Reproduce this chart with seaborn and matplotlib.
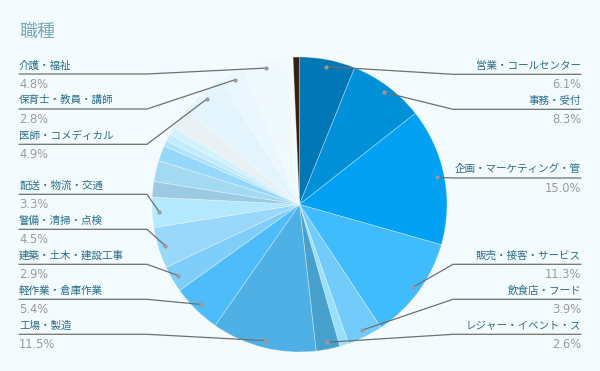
import numpy as np
import matplotlib
matplotlib.use("Agg")
import matplotlib.pyplot as plt
import seaborn as sns

# ---- data (clockwise from 12 o'clock) ----
categories = [
    "営業・コールセンター", "事務・受付", "企画・マーケティング・管", "販売・接客・サービス",
    "飲食店・フード", "", "レジャー・イベント・ス", "工場・製造", "軽作業・倉庫作業",
    "建築・土木・建設工事", "警備・清掃・点検", "配送・物流・交通", "", "", "", "", "", "", "",
    "医師・コメディカル", "保育士・教員・講師", "介護・福祉", "", "",
]
values = [6.1, 8.3, 15.0, 11.3, 3.9, 1.0, 2.6, 11.5, 5.4, 2.9, 4.5, 3.3,
          1.7, 2.3, 1.7, 0.6, 0.8, 0.9, 2.3, 4.9, 2.8, 4.8, 0.7, 0.7]
slice_colors = [
    "#0277b5", "#0290d8", "#03a1f3", "#40bbfc", "#73cbfc", "#99e0fd", "#48a0cd",
    "#4fb0e6", "#4dbcf9", "#7fcdf9", "#99d7fb", "#b3e8fd", "#9ccae2", "#a4d9f2",
    "#97d8fa", "#b0e3fb", "#c4ebfc", "#d3f1fd", "#e8f0f4", "#e4f4fd", "#ebf7fe",
    "#f0f9fe", "#f4fbff", "#3a1e10",
]

# ---- layout of labels (pixel positions of the underline) ----
right_labels = {"営業・コールセンター": 74.3, "事務・受付": 109.3, "企画・マーケティング・管": 178,
                "販売・接客・サービス": 264.3, "飲食店・フード": 299.3, "レジャー・イベント・ス": 334.3}
left_labels = {"介護・福祉": 74, "保育士・教員・講師": 109, "医師・コメディカル": 144.3,
               "配送・物流・交通": 194.3, "警備・清掃・点検": 229.3, "建築・土木・建設工事": 264.3,
               "軽作業・倉庫作業": 299.3, "工場・製造": 334.3}

sns.set_theme(style="white")
plt.rcParams["font.family"] = ["Noto Sans CJK JP", "DejaVu Sans"]

W, H = 600, 371
BG = "#f4fbff"
fig = plt.figure(figsize=(6, 3.71), dpi=100, facecolor=BG)
ax = fig.add_axes([0, 0, 1, 1])
ax.set_facecolor(BG)

cx, cy, R = 299.5, H - 204.5, 147.5
wedges, _ = ax.pie(values, colors=slice_colors, startangle=90, counterclock=False,
                   center=(cx, cy), radius=R, frame=True,
                   wedgeprops=dict(linewidth=0.6, edgecolor=(1, 1, 1, 0.35)))
ax.set_xlim(0, W)
ax.set_ylim(0, H)
ax.set_aspect("equal")
ax.axis("off")

name_col = "#2b6d88"
pct_col = "#9a9a9a"
line_col = "#6f6f6f"

def Y(y):
    return H - y

for w, name, v in zip(wedges, categories, values):
    if not name:
        continue
    mid = np.deg2rad((w.theta1 + w.theta2) / 2)
    px = cx + 0.952 * R * np.cos(mid)
    py = cy + 0.952 * R * np.sin(mid)
    if name in right_labels:
        ly = Y(right_labels[name])
        bx = max(453, px)
        ax.plot([px, bx, 581], [py, ly, ly], color=line_col, lw=0.9, zorder=3)
        ax.text(581, ly + 8.6, name, ha="right", va="center", fontsize=7.6, color=name_col)
        ax.text(581, ly - 10.2, f"{v:.1f}%", ha="right", va="center", fontsize=8.3,
                color=pct_col, family="DejaVu Sans")
    else:
        ly = Y(left_labels[name])
        ax.plot([19, 147, px], [ly, ly, py], color=line_col, lw=0.9, zorder=3)
        ax.text(19, ly + 8.6, name, ha="left", va="center", fontsize=7.6, color=name_col)
        ax.text(19, ly - 10.2, f"{v:.1f}%", ha="left", va="center", fontsize=8.3,
                color=pct_col, family="DejaVu Sans")
    ax.scatter([px], [py], s=9, color="#9a9a9a", zorder=4, linewidths=0)

ax.text(19, Y(31.5), "職種", ha="left", va="center", fontsize=13, color="#7ba9bb")

fig.savefig("out.png", dpi=100, facecolor=BG)
